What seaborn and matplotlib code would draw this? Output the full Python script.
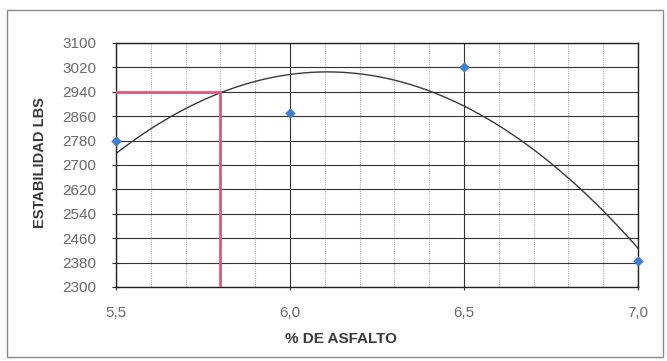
import matplotlib
matplotlib.use("Agg")
import matplotlib.pyplot as plt
from matplotlib.patches import Rectangle
from matplotlib.ticker import MultipleLocator
import numpy as np
import pandas as pd
import seaborn as sns

# datos del ensayo
asfalto = [5.5, 6.0, 6.5, 7.0]
estabilidad = [2780, 2870, 3020, 2385]

# contenido optimo
asfalto_opt = 5.8
estab_opt = 2940

x_ticks = [5.5, 6.0, 6.5, 7.0]
x_labels = ["5,5", "6,0", "6,5", "7,0"]
y_ticks = [2300, 2380, 2460, 2540, 2620, 2700, 2780, 2860, 2940, 3020, 3100]

df = pd.DataFrame({"asfalto": asfalto, "estabilidad": estabilidad})

sns.set_style("white")
plt.rcParams['font.family'] = ['Liberation Sans', 'DejaVu Sans']

fig = plt.figure(figsize=(6.67, 3.61), dpi=100)
ax = fig.add_axes([0.174, 0.205, 0.7825, 0.676])

# marco exterior
fig.patches.append(Rectangle((0.011, 0.01), 0.983, 0.963, transform=fig.transFigure,
                             fill=False, edgecolor="#888888", linewidth=1.0))

# linea de tendencia polinomica (orden 2)
sns.regplot(data=df, x="asfalto", y="estabilidad", order=2, ci=None, scatter=False,
            truncate=True, line_kws={"color": "#3a3a3a", "linewidth": 1.0}, ax=ax)

# puntos
sns.scatterplot(data=df, x="asfalto", y="estabilidad", marker="D", s=24,
                color="#3d7fd6", edgecolor="#3d7fd6", zorder=5, clip_on=False, ax=ax)

# lineas del optimo
ax.plot([x_ticks[0], asfalto_opt], [estab_opt, estab_opt], color="#e0587a", linewidth=2.0, zorder=4)
ax.plot([asfalto_opt, asfalto_opt], [estab_opt, y_ticks[0]], color="#e0587a", linewidth=2.0, zorder=4)

ax.set_xlim(5.5, 7.0)
ax.set_ylim(2300, 3100)
ax.set_xticks(x_ticks)
ax.set_xticklabels(x_labels)
ax.xaxis.set_minor_locator(MultipleLocator(0.1))
ax.set_yticks(y_ticks)

ax.grid(True, which="major", axis="both", color="#333333", linewidth=0.8)
ax.grid(True, which="minor", axis="x", color="#b0b0b0", linewidth=0.8, linestyle=(0, (1, 1)))
ax.set_axisbelow(True)

for s in ax.spines.values():
    s.set_color("#222222")
    s.set_linewidth(1.0)

ax.tick_params(axis="y", which="major", direction="inout", length=6, color="#333333",
               labelsize=11, labelcolor="#6a6a6a", pad=11, left=True)
ax.tick_params(axis="x", which="major", direction="inout", length=5, color="#333333",
               labelsize=11, labelcolor="#6a6a6a", pad=11, bottom=True)
ax.tick_params(axis="x", which="minor", length=0)

ax.set_xlabel("% DE ASFALTO", fontsize=11, fontweight="bold", color="#3a3a3a")
ax.set_ylabel("ESTABILIDAD LBS", fontsize=10.5, fontweight="bold", color="#3a3a3a")
ax.xaxis.set_label_coords(0.431, -0.183)
ax.yaxis.set_label_coords(-0.132, 0.51)

fig.savefig("out.png", dpi=100)
